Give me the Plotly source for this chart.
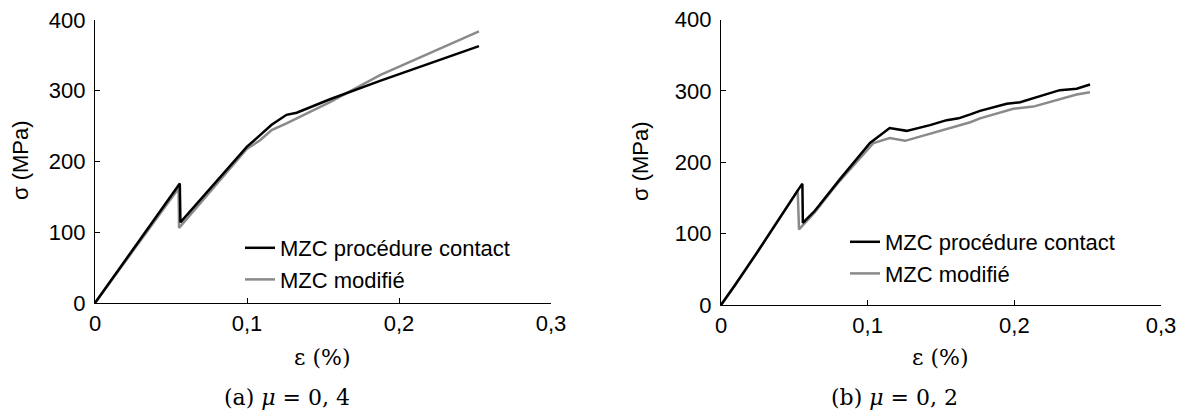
import plotly.graph_objects as go

# ---------------- data ----------------
# (a) mu = 0,4
a_contact_x = [0, 0.0558, 0.0562, 0.1, 0.1064, 0.1162, 0.126, 0.1327, 0.1546, 0.1875, 0.2526]
a_contact_y = [0, 169, 114, 221, 233, 252, 266, 269, 288, 314, 363]
a_modif_x = [0, 0.0550, 0.0553, 0.1, 0.1086, 0.1162, 0.126, 0.1414, 0.1546, 0.1875, 0.2526]
a_modif_y = [0, 162, 106, 218, 230, 244.5, 254, 270, 284, 322, 384]

# (b) mu = 0,2
b_contact_x = [0, 0.0096, 0.0254, 0.037, 0.0505, 0.0528, 0.0555, 0.0558, 0.064, 0.0755, 0.081,
               0.1016, 0.115, 0.1266, 0.1334, 0.1425, 0.1539, 0.162, 0.17, 0.1766, 0.1948,
               0.204, 0.2198, 0.231, 0.2425, 0.2516]
b_contact_y = [0, 28, 76, 113, 155, 162, 170, 115, 132, 162, 176,
               227, 248, 244, 247, 252, 259, 261.5, 267, 272, 282,
               284, 294, 301, 303, 309]
b_modif_x = [0, 0.0096, 0.0254, 0.037, 0.0505, 0.0523, 0.0532, 0.064, 0.0755, 0.081, 0.104,
             0.115, 0.1255, 0.17, 0.1766, 0.1993, 0.213, 0.231, 0.2425, 0.2516]
b_modif_y = [0, 28, 76, 113, 155, 160, 106, 130, 160, 174, 227,
             234, 230, 256, 261.5, 275, 278, 289, 295, 298]

series_names = ["MZC procédure contact", "MZC modifié"]
x_ticks = [0, 0.1, 0.2, 0.3]
x_ticklabels = ["0", "0,1", "0,2", "0,3"]
y_ticks = [0, 100, 200, 300, 400]
y_ticklabels = ["0", "100", "200", "300", "400"]
x_title = "ε (%)"
y_title = "σ (MPa)"
captions = ["(a) <i>μ</i> = 0, 4", "(b) <i>μ</i> = 0, 2"]

# ---------------- figure ----------------
# the page body has an 8px margin: the figure is sized to fill the rest of the window
OFF = 8
W, H = 1188 - OFF, 415 - OFF
SANS = "Liberation Sans, Arial, sans-serif"
SERIF = "DejaVu Serif, serif"
BLACK = "#000000"
GRAY = "#8a8a8a"


def px(X):
    return (X - OFF) / W


def py(Y):
    return (H - (Y - OFF)) / H


fig = go.Figure()

# gray first so black is drawn on top
fig.add_trace(go.Scatter(x=a_modif_x, y=a_modif_y, mode="lines", name=series_names[1],
                         line=dict(color=GRAY, width=2.5), xaxis="x", yaxis="y", legend="legend"))
fig.add_trace(go.Scatter(x=a_contact_x, y=a_contact_y, mode="lines", name=series_names[0],
                         line=dict(color=BLACK, width=2.5), xaxis="x", yaxis="y", legend="legend"))
fig.add_trace(go.Scatter(x=b_modif_x, y=b_modif_y, mode="lines", name=series_names[1],
                         line=dict(color=GRAY, width=2.5), xaxis="x2", yaxis="y2", legend="legend2"))
fig.add_trace(go.Scatter(x=b_contact_x, y=b_contact_y, mode="lines", name=series_names[0],
                         line=dict(color=BLACK, width=2.5), xaxis="x2", yaxis="y2", legend="legend2"))


def xaxis(domain, anchor):
    return dict(domain=domain, anchor=anchor, range=[0, 0.3], tickmode="array",
                tickvals=x_ticks, ticktext=x_ticklabels, ticks="inside", ticklen=5,
                tickwidth=1, tickcolor=BLACK, showline=True, linecolor=BLACK, linewidth=1.2,
                showgrid=False, zeroline=False, tickfont=dict(family=SANS, size=22, color=BLACK),
                ticklabeloverflow="allow", automargin=False, fixedrange=True)


def yaxis(domain, anchor):
    return dict(domain=domain, anchor=anchor, range=[0, 400], tickmode="array",
                tickvals=y_ticks, ticktext=y_ticklabels, ticks="inside", ticklen=5,
                tickwidth=1, tickcolor=BLACK, showline=True, linecolor=BLACK, linewidth=1.2,
                showgrid=False, zeroline=False, tickfont=dict(family=SANS, size=22, color=BLACK),
                ticklabelstandoff=4, ticklabeloverflow="allow", automargin=False,
                fixedrange=True)


ax_a = [px(95), px(551)]
ax_b = [px(721), px(1161)]
ay_a = [py(303), py(20)]
ay_b = [py(305), py(19.5)]

legend_common = dict(font=dict(family=SANS, size=22, color=BLACK), bgcolor="rgba(0,0,0,0)",
                     borderwidth=0, xanchor="left", yanchor="top", itemwidth=30,
                     tracegroupgap=0, traceorder="reversed")

fig.update_layout(
    width=W, height=H,
    margin=dict(l=0, r=0, t=0, b=0, pad=0, autoexpand=False),
    paper_bgcolor="white", plot_bgcolor="white",
    xaxis=xaxis(ax_a, "y"), yaxis=yaxis(ay_a, "x"),
    xaxis2=xaxis(ax_b, "y2"), yaxis2=yaxis(ay_b, "x2"),
    legend=dict(x=px(240), y=py(227), **legend_common),
    legend2=dict(x=px(845), y=py(221), **legend_common),
    showlegend=True,
)

ann = []
for xc, yc in [(20, 160), (641, 161)]:
    ann.append(dict(text=y_title, x=px(xc), y=py(yc), xref="paper", yref="paper",
                    showarrow=False, textangle=-90, xanchor="center", yanchor="middle",
                    font=dict(family=SANS, size=22, color=BLACK)))
for xc in [322, 940]:
    ann.append(dict(text=x_title, x=px(xc), y=py(357), xref="paper", yref="paper",
                    showarrow=False, xanchor="center", yanchor="middle",
                    font=dict(family=SERIF, size=22, color=BLACK)))
for xc, cap in zip([287, 894], captions):
    ann.append(dict(text=cap, x=px(xc), y=py(397), xref="paper", yref="paper",
                    showarrow=False, xanchor="center", yanchor="middle",
                    font=dict(family=SERIF, size=22, color=BLACK)))
fig.update_layout(annotations=ann)

fig.write_html("out.html")
